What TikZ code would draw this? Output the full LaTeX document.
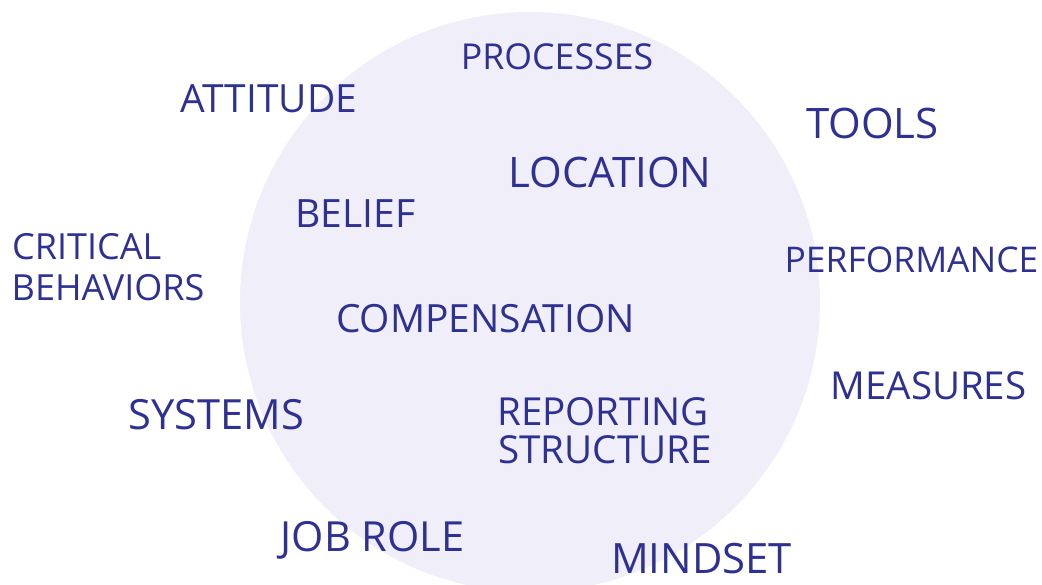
\documentclass[tikz,border=0pt]{standalone}
\usepackage{fontspec}
\setmainfont{Open Sans}
\usepackage{xcolor}

\definecolor{ink}{HTML}{2E3192}
\definecolor{disc}{HTML}{EFEEF9}
\newcommand{\wsize}[1]{\fontsize{#1}{#1}\selectfont}

\begin{document}
\begin{tikzpicture}
        [x=1pt,y=-1pt,every node/.style={inner sep=0pt,text=ink,anchor=base}]
        \useasboundingbox (0,0) rectangle (1042,585);
        \clip (0,0) rectangle (1042,585);
        \fill[disc] (530,302) circle (290pt);

        % words inside and around the disc
        \node[font=\wsize{35.7}] (processes) at (557,70) {PROCESSES};
        \node[font=\wsize{38.9}] (attitude) at (269,112.5) {ATTITUDE};
        \node[font=\wsize{42}] (tools) at (872.5,139) {TOOLS};
        \node[font=\wsize{42}] (location) at (610,187.5) {LOCATION};
        \node[font=\wsize{39}] (belief) at (355.5,228) {BELIEF};
        \node[font=\wsize{36}] [anchor=base west] (critical) at (12,260) {CRITICAL};
        \node[font=\wsize{36}] [anchor=base west] (behaviors) at (11.5,301) {BEHAVIORS};
        \node[font=\wsize{35.4}] (performance) at (911.5,272.5) {PERFORMANCE};
        \node[font=\wsize{38.9}] (compensation) at (485.5,332.5) {COMPENSATION};
        \node[font=\wsize{41.6}] (systems) at (216.5,429) {SYSTEMS};
        \node[font=\wsize{38.5}] (measures) at (928.5,399.5) {MEASURES};
        \node[font=\wsize{38.6}] [anchor=base west] (reporting) at (497,425.5) {REPORTING};
        \node[font=\wsize{38.6}] [anchor=base west] (structure) at (498,463.5) {STRUCTURE};
        \node[font=\wsize{41.5}] (jobrole) at (372.5,551) {JOB ROLE};
        \node[font=\wsize{41.8}] (mindset) at (701.5,573) {MINDSET};
    \end{tikzpicture}
\end{document}
